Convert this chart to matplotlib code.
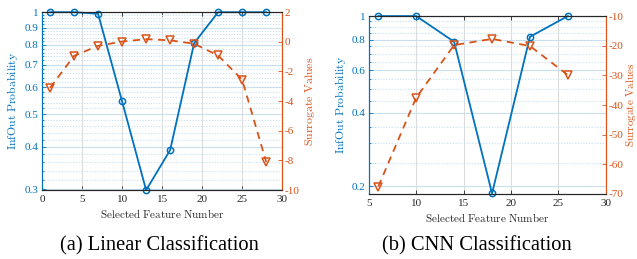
import numpy as np
import matplotlib
matplotlib.use("Agg")
import matplotlib.pyplot as plt
from matplotlib.ticker import FixedLocator, NullFormatter

# ---- data ----
lin_x = [1, 4, 7, 10, 13, 16, 19, 22, 25, 28]
lin_prob = [1.0, 1.0, 0.989, 0.545, 0.298, 0.391, 0.81, 1.0, 1.0, 1.0]
lin_surr = [-3.1, -0.95, -0.27, 0.02, 0.18, 0.1, -0.13, -0.92, -2.56, -8.1]

cnn_x = [6, 10, 14, 18, 22, 26]
cnn_prob = [1.0, 1.0, 0.784, 0.187, 0.822, 1.0]
cnn_surr = [-67.5, -37.5, -19.8, -17.7, -20.1, -29.9]

lin_prob_ticks = [0.3, 0.4, 0.5, 0.6, 0.7, 0.8, 0.9, 1.0]
lin_prob_labels = ['0.3', '0.4', '0.5', '0.6', '0.7', '0.8', '0.9', '1']
lin_surr_ticks = [-10, -8, -6, -4, -2, 0, 2]
cnn_prob_ticks = [0.2, 0.4, 0.6, 0.8, 1.0]
cnn_prob_labels = ['0.2', '0.4', '0.6', '0.8', '1']
cnn_surr_ticks = [-70, -60, -50, -40, -30, -20, -10]
xlabel = 'Selected Feature Number'
ylabel_left = 'InfOut Probability'
ylabel_right = 'Surrogate Values'
captions = ['(a) Linear Classification', '(b) CNN Classification']

BLUE = '#0072BD'
ORANGE = '#D95319'
DARK = '#262626'
SERIF = ['Liberation Serif', 'DejaVu Serif']
plt.rcParams['font.family'] = SERIF
plt.rcParams['mathtext.fontset'] = 'cm'
plt.rcParams['axes.unicode_minus'] = False

fig = plt.figure(figsize=(6.37, 2.59), dpi=100)


def cm(s):
    return r'$\mathrm{' + s.replace(' ', r'\ ') + '}$'


def make_panel(rect, x, prob, surr, xlim, xticks, plim, pticks, plabels, pminor,
               slim, sticks, ylpos, yrpos, xlpos, rfs):
    ax1 = fig.add_axes(rect)
    ax1.set_yscale('log')
    ax1.set_xlim(*xlim)
    ax1.set_ylim(*plim)
    ax1.set_xticks(xticks)
    ax1.set_xticklabels([str(t) for t in xticks])
    ax1.yaxis.set_major_locator(FixedLocator(pticks))
    ax1.set_yticklabels(plabels)
    ax1.yaxis.set_minor_locator(FixedLocator(pminor))
    ax1.yaxis.set_minor_formatter(NullFormatter())
    ax1.set_axisbelow(True)
    ax1.yaxis.grid(True, which='major', color='#c9dff0', lw=0.8, ls='-')
    ax1.yaxis.grid(True, which='minor', color='#c9dff0', lw=0.8, ls=(0, (1, 1.5)))
    ax1.xaxis.grid(True, which='major', color='#dcdcdc', lw=0.8)
    ax1.tick_params(axis='y', which='both', direction='in', colors=BLUE,
                    labelsize=8, length=3, width=0.6, pad=2.5)
    ax1.tick_params(axis='y', which='minor', length=1.5)
    ax1.tick_params(axis='x', direction='in', colors=DARK, labelsize=8,
                    length=3, width=0.6, top=True)
    ax1.spines['left'].set_color(BLUE)
    ax1.spines['right'].set_color(ORANGE)
    ax1.spines['top'].set_color(DARK)
    ax1.spines['bottom'].set_color(DARK)
    for s in ax1.spines.values():
        s.set_linewidth(0.8)

    ax1.plot(x, prob, color=BLUE, lw=1.3, marker='o', ms=4.5, mfc='none',
             mew=1.1, zorder=5, clip_on=False)
    ax1.set_ylabel(cm(ylabel_left), color=BLUE, fontsize=8.5)
    ax1.yaxis.label.set_va('center')
    ax1.yaxis.set_label_coords(ylpos, 0.5)
    ax1.set_xlabel(cm(xlabel), color=DARK, fontsize=8)
    ax1.xaxis.label.set_va('center')
    ax1.xaxis.set_label_coords(0.5, xlpos)

    ax2 = ax1.twinx()
    ax2.set_ylim(*slim)
    ax2.set_yticks(sticks)
    ax2.set_yticklabels([str(t) for t in sticks])
    ax2.plot(x, surr, color=ORANGE, lw=1.3, ls=(0, (4, 3)), marker='v', ms=5.5,
             mfc='none', mew=1.1, zorder=4, clip_on=False)
    ax2.tick_params(axis='y', direction='in', colors=ORANGE, labelsize=8,
                    length=3, width=0.6, pad=2)
    ax2.spines['right'].set_color(ORANGE)
    ax2.spines['left'].set_color(BLUE)
    ax2.spines['top'].set_color(DARK)
    ax2.spines['bottom'].set_color(DARK)
    for s in ax2.spines.values():
        s.set_linewidth(0.8)
    ax2.set_ylabel(cm(ylabel_right), color=ORANGE, fontsize=rfs)
    ax2.yaxis.label.set_va('center')
    ax2.yaxis.set_label_coords(yrpos, 0.5)
    return ax1, ax2


lin_minor = [v / 100 for v in range(30, 100, 2) if v % 10 != 0]
cnn_minor = [v / 100 for v in range(20, 100, 5) if v % 20 != 0]

make_panel([0.066, 0.266, 0.377, 0.687], lin_x, lin_prob, lin_surr,
           (0, 30), [0, 5, 10, 15, 20, 25, 30], (0.298, 1.0), lin_prob_ticks,
           lin_prob_labels, lin_minor, (-10, 2), lin_surr_ticks,
           -0.125, 1.117, -0.13, 8.5)
make_panel([0.579, 0.251, 0.372, 0.687], cnn_x, cnn_prob, cnn_surr,
           (5, 30), [5, 10, 15, 20, 25, 30], (0.186, 1.0), cnn_prob_ticks,
           cnn_prob_labels, cnn_minor, (-70, -10), cnn_surr_ticks,
           -0.118, 1.107, -0.13, 8.0)

fig.text(0.251, 0.05, captions[0], ha='center', va='center', fontsize=14.8,
         color='black')
fig.text(0.749, 0.05, captions[1], ha='center', va='center', fontsize=14.8,
         color='black')

fig.savefig('out.png', dpi=100)
